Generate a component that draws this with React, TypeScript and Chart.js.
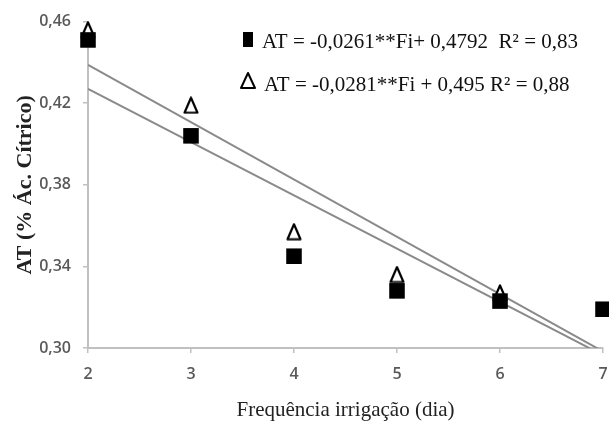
import React, { useEffect, useRef } from "react";
import { Chart, registerables } from "chart.js";
Chart.register(...registerables);

// Data
const xValues = [2, 3, 4, 5, 6, 7];
const squareValues = [0.451, 0.404, 0.345, 0.328, 0.323, 0.319];
const triangleValues: (number | null)[] = [0.456, 0.419, 0.357, 0.336, 0.327, null];
const fitX = [2, 7];
const squareFit = [0.427, 0.2965]; // AT = -0,0261 Fi + 0,4792
const triangleFit = [0.4388, 0.2983]; // AT = -0,0281 Fi + 0,495
const yTicks = [0.3, 0.34, 0.38, 0.42, 0.46];
const xTicks = [2, 3, 4, 5, 6, 7];
const legendTexts = [
  "AT = -0,0261**Fi+ 0,4792  R\u00B2 = 0,83",
  "AT = -0,0281**Fi + 0,495 R\u00B2 = 0,88",
];
const xTitle = "Frequência irrigação (dia)";
const yTitle = "AT (% Ác. Cítrico)";

function makeTriangle(): HTMLCanvasElement {
  const c = document.createElement("canvas");
  c.width = 16;
  c.height = 18;
  const ctx = c.getContext("2d")!;
  ctx.fillStyle = "#ffffff";
  ctx.strokeStyle = "#000000";
  ctx.lineWidth = 2.2;
  ctx.lineJoin = "round";
  ctx.beginPath();
  ctx.moveTo(8, 1.5);
  ctx.lineTo(14.5, 16.5);
  ctx.lineTo(1.5, 16.5);
  ctx.closePath();
  ctx.fill();
  ctx.stroke();
  return c;
}

const legendPlugin = {
  id: "eqLegend",
  afterDraw(chart: any) {
    const ctx = chart.ctx as CanvasRenderingContext2D;
    const a = chart.chartArea;
    ctx.save();
    // square marker
    ctx.fillStyle = "#000";
    ctx.fillRect(a.left + 155, 32, 10, 15);
    // triangle marker
    ctx.strokeStyle = "#000";
    ctx.lineWidth = 2;
    ctx.lineJoin = "round";
    ctx.beginPath();
    ctx.moveTo(a.left + 160, 73);
    ctx.lineTo(a.left + 167, 88);
    ctx.lineTo(a.left + 153, 88);
    ctx.closePath();
    ctx.stroke();
    ctx.fillStyle = "#111";
    ctx.font = "21px 'Liberation Serif', 'Times New Roman', serif";
    ctx.textBaseline = "alphabetic";
    ctx.fillText(legendTexts[0], a.left + 174, 48);
    ctx.fillText(legendTexts[1], a.left + 176, 91);
    ctx.restore();
  },
};

const noPadding = () => ({ left: 0, right: 0, top: 0, bottom: 0 });

export default function App() {
  const ref = useRef<HTMLCanvasElement | null>(null);
  useEffect(() => {
    document.body.style.margin = "0";
    const tri = makeTriangle();
    const chart = new Chart(ref.current!, {
      type: "scatter",
      data: {
        datasets: [
          {
            data: xValues.map((x, i) => ({ x, y: squareValues[i] })),
            pointStyle: "rect",
            pointRadius: 11,
            pointHoverRadius: 11,
            backgroundColor: "#000",
            borderColor: "#000",
            borderWidth: 0,
            clip: false as any,
          },
          {
            data: xValues
              .map((x, i) => ({ x, y: triangleValues[i] }))
              .filter((p) => p.y !== null) as any,
            pointStyle: tri as any,
            pointRadius: 9,
            clip: false as any,
          },
          {
            data: fitX.map((x, i) => ({ x, y: squareFit[i] })),
            showLine: true,
            pointRadius: 0,
            borderColor: "#8a8a8a",
            borderWidth: 2,
          },
          {
            data: fitX.map((x, i) => ({ x, y: triangleFit[i] })),
            showLine: true,
            pointRadius: 0,
            borderColor: "#8a8a8a",
            borderWidth: 2,
          },
        ],
      },
      options: {
        responsive: false,
        animation: false,
        layout: { autoPadding: false, padding: { top: 17, right: 6, bottom: 0, left: 0 } },
        plugins: { legend: { display: false }, tooltip: { enabled: false } },
        scales: {
          x: {
            type: "linear",
            min: 2,
            max: 7,
            afterBuildTicks: (s: any) => {
              s.ticks = xTicks.map((v) => ({ value: v }));
            },
            afterFit: (s: any) => {
              s.height = 75;
              s.paddingRight = 0;
              s.paddingLeft = 0;
              s.getPadding = noPadding;
            },
            grid: { drawOnChartArea: false, drawTicks: true, tickLength: 5, color: "#c0c0c0", lineWidth: 1.5 },
            border: { color: "#c0c0c0", width: 2 },
            ticks: {
              padding: 12,
              color: "#595959",
              font: { family: "'Open Sans', sans-serif", size: 16, weight: "600" },
              callback: (v: any) => String(v),
            },
            title: {
              display: true,
              text: xTitle,
              color: "#222",
              padding: { top: 0, bottom: 0 },
              font: { family: "'Liberation Serif', 'Times New Roman', serif", size: 21 },
            },
          },
          y: {
            type: "linear",
            min: 0.3,
            max: 0.46,
            afterBuildTicks: (s: any) => {
              s.ticks = yTicks.map((v) => ({ value: v }));
            },
            afterFit: (s: any) => {
              s.width = 88;
            },
            grid: { drawOnChartArea: false, drawTicks: true, tickLength: 5, color: "#c0c0c0", lineWidth: 1.5 },
            border: { color: "#c0c0c0", width: 2 },
            ticks: {
              padding: 12,
              color: "#595959",
              font: { family: "'Open Sans', sans-serif", size: 16, weight: "600" },
              callback: (v: any) => Number(v).toFixed(2).replace(".", ","),
            },
            title: {
              display: true,
              text: yTitle,
              color: "#222",
              padding: { top: 12, bottom: 0 },
              font: { family: "'Liberation Serif', 'Times New Roman', serif", size: 22, weight: "bold" },
            },
          },
        },
      },
      plugins: [legendPlugin],
    });
    return () => chart.destroy();
  }, []);
  return <canvas ref={ref} width={609} height={423} style={{ display: "block" }} />;
}
